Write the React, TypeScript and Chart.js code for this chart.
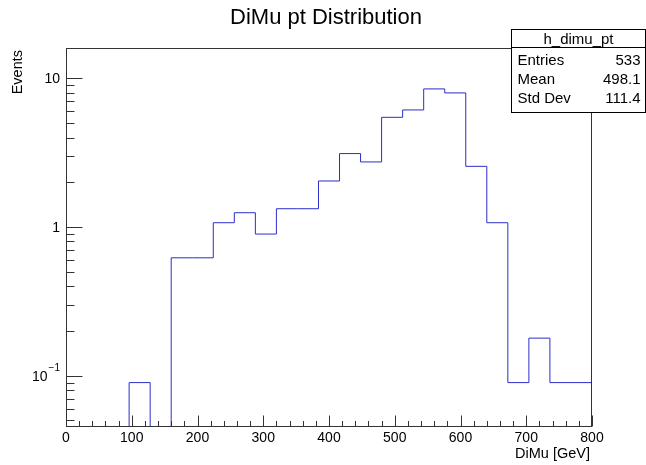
import React, { useEffect, useRef } from 'react';
import { Chart, registerables } from 'chart.js';

Chart.register(...registerables);

// ---- data ----
const binEdges = [0, 32, 64, 96, 128, 160, 192, 224, 256, 288, 320, 352, 384, 416, 448, 480, 512, 544, 576, 608, 640, 672, 704, 736, 768, 800];
const binContents = [0, 0, 0, 0.0899, 0, 0.621, 0.621, 1.069, 1.248, 0.897, 1.328, 1.328, 2.04, 3.12, 2.74, 5.47, 6.13, 8.49, 7.98, 2.56, 1.069, 0.0899, 0.179, 0.0899, 0.0899];
const xTickValues = [0, 100, 200, 300, 400, 500, 600, 700, 800];
const xTickLabels = ['0', '100', '200', '300', '400', '500', '600', '700', '800'];
const yTickValues = [0.1, 1, 10];
const yTickBases = ['10', '1', '10'];
const yTickExponents = ['\u22121', '', ''];
const chartTitle = 'DiMu pt Distribution';
const xTitle = 'DiMu [GeV]';
const yTitle = 'Events';
const statsTitle = 'h_dimu_pt';
const statsNames = ['Entries', 'Mean', 'Std Dev'];
const statsValues = ['533', '498.1', '111.4'];
const xRange = [0, 800];
const yRange = [0.0452, 16.0];

const FONT = '"Liberation Sans", Arial, Helvetica, sans-serif';

const rootPlugin = {
  id: 'rootStyle',
  afterDatasetsDraw(chart: any) {
    const ctx = chart.ctx as CanvasRenderingContext2D;
    const a = chart.chartArea;
    const xs = chart.scales.x;
    const ys = chart.scales.y;
    ctx.save();
    ctx.strokeStyle = '#333';
    ctx.lineWidth = 1;
    // frame
    ctx.strokeRect(Math.round(a.left) + 0.5, Math.round(a.top) + 0.5, Math.round(a.right - a.left) - 1, Math.round(a.bottom - a.top) - 1);
    const bottom = Math.round(a.bottom) - 0.5;
    const left = Math.round(a.left) + 0.5;
    // x ticks
    ctx.beginPath();
    for (let v = xRange[0]; v <= xRange[1]; v += 20) {
      const px = Math.round(xs.getPixelForValue(v)) + 0.5;
      const major = v % 100 === 0;
      const len = major ? 11 : 5.5;
      ctx.moveTo(px, bottom);
      ctx.lineTo(px, bottom - len);
    }
    // y ticks
    for (let d = -2; d <= 1; d++) {
      for (let m = 1; m <= 9; m++) {
        const v = m * Math.pow(10, d);
        if (v < yRange[0] || v > yRange[1]) continue;
        const py = Math.round(ys.getPixelForValue(v)) + 0.5;
        const len = m === 1 ? 16 : 8;
        ctx.moveTo(left, py);
        ctx.lineTo(left + len, py);
      }
    }
    ctx.stroke();

    ctx.fillStyle = '#000';
    // x labels
    ctx.font = `14px ${FONT}`;
    ctx.textAlign = 'center';
    ctx.textBaseline = 'middle';
    xTickValues.forEach((v, i) => {
      ctx.fillText(xTickLabels[i], xs.getPixelForValue(v), a.bottom + 11);
    });
    // y labels
    yTickValues.forEach((v, i) => {
      const py = ys.getPixelForValue(v);
      const right = a.left - 6;
      const exp = yTickExponents[i];
      ctx.textBaseline = 'middle';
      if (exp) {
        ctx.font = `10px ${FONT}`;
        const ew = ctx.measureText(exp).width;
        ctx.textAlign = 'right';
        ctx.fillText(exp, right, py - 7);
        ctx.font = `14px ${FONT}`;
        ctx.fillText(yTickBases[i], right - ew - 1, py + 1);
      } else {
        ctx.font = `14px ${FONT}`;
        ctx.textAlign = 'right';
        ctx.fillText(yTickBases[i], right, py + 1);
      }
    });
    // axis titles
    ctx.font = `14.5px ${FONT}`;
    ctx.textAlign = 'right';
    ctx.textBaseline = 'middle';
    ctx.fillText(xTitle, a.right - 2, a.bottom + 27);
    ctx.save();
    ctx.translate(18, a.top + 2);
    ctx.rotate(-Math.PI / 2);
    ctx.textAlign = 'right';
    ctx.fillText(yTitle, 0, 0);
    ctx.restore();
    // title
    ctx.font = `22px ${FONT}`;
    ctx.textAlign = 'center';
    ctx.fillText(chartTitle, 326, 18);

    // stats box
    const bx = 511.5, by = 29.5, bw = 134, bh = 83;
    ctx.fillStyle = '#fff';
    ctx.fillRect(bx, by, bw, bh);
    ctx.strokeStyle = '#000';
    ctx.strokeRect(bx, by, bw, bh);
    ctx.beginPath();
    ctx.moveTo(bx, by + 18);
    ctx.lineTo(bx + bw, by + 18);
    ctx.stroke();
    ctx.fillStyle = '#000';
    ctx.font = `15px ${FONT}`;
    ctx.textAlign = 'center';
    ctx.fillText(statsTitle, bx + bw / 2, by + 10);
    statsNames.forEach((n, i) => {
      const ty = by + 31 + i * 19;
      ctx.textAlign = 'left';
      ctx.fillText(n, bx + 6, ty);
      ctx.textAlign = 'right';
      ctx.fillText(statsValues[i], bx + bw - 5, ty);
    });
    ctx.restore();
  },
};

export default function App() {
  const ref = useRef<HTMLCanvasElement>(null);
  useEffect(() => {
    if (!ref.current) return;
    const n = binContents.length;
    const points = binEdges.map((e, i) => ({
      x: e,
      y: Math.max(binContents[Math.min(i, n - 1)], yRange[0]),
    }));
    const chart = new Chart(ref.current, {
      type: 'line',
      data: {
        datasets: [
          {
            label: statsTitle,
            data: points,
            stepped: 'before',
            borderColor: 'rgb(45,45,200)',
            borderWidth: 1,
            pointRadius: 0,
            fill: false,
          },
        ],
      },
      options: {
        animation: false,
        responsive: false,
        devicePixelRatio: 1,
        layout: { padding: { left: 66, top: 48, right: 54, bottom: 38 } },
        plugins: { legend: { display: false }, tooltip: { enabled: false }, title: { display: false } },
        scales: {
          x: { type: 'linear', min: xRange[0], max: xRange[1], display: false },
          y: { type: 'logarithmic', min: yRange[0], max: yRange[1], display: false },
        },
      },
      plugins: [rootPlugin],
    });
    return () => chart.destroy();
  }, []);
  return (
    <div style={{ position: 'fixed', left: 0, top: 0, width: 646, height: 465, background: '#fff' }}>
      <canvas ref={ref} width={646} height={465} style={{ width: 646, height: 465 }} />
    </div>
  );
}
